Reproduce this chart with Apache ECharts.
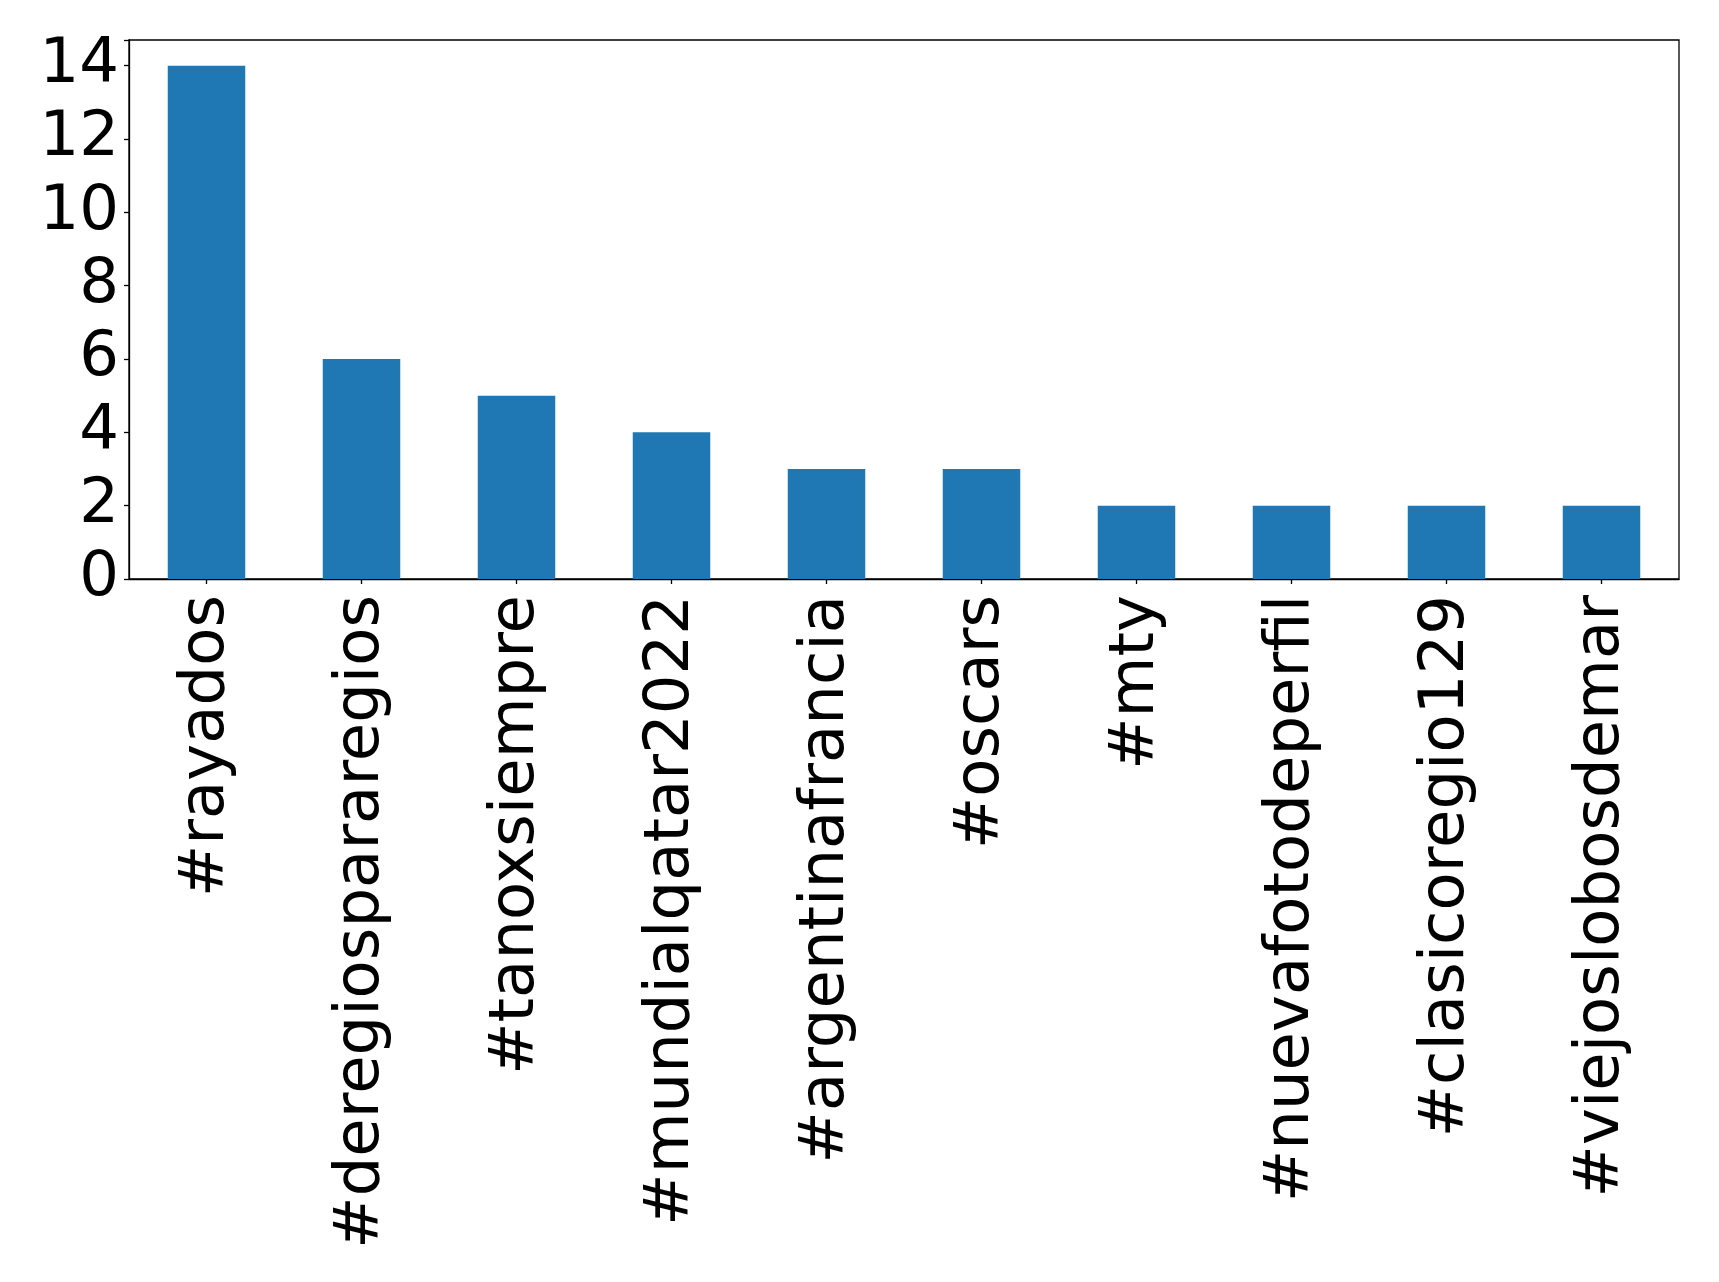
<!DOCTYPE html>
<html>
<head>
<meta charset="utf-8">
<script src="https://cdn.jsdelivr.net/npm/echarts@6/dist/echarts.min.js"></script>
<style>html,body{margin:0;padding:0;background:#fff}#c{width:1719px;height:1282px}</style>
</head>
<body>
<div id="c"></div>
<script>
const categories = ['#rayados','#deregiospararegios','#tanoxsiempre','#mundialqatar2022','#argentinafrancia','#oscars','#mty','#nuevafotodeperfil','#clasicoregio129','#viejoslobosdemar'];
const values = [14, 6, 5, 4, 3, 3, 2, 2, 2, 2];
const yTicks = [0, 2, 4, 6, 8, 10, 12, 14];

const chart = echarts.init(document.getElementById('c'), null, {renderer: 'canvas'});
const font = 'DejaVu Sans';
chart.setOption({
  animation: false,
  backgroundColor: '#ffffff',
  grid: {left: 129, top: 40, right: 40, bottom: 703, show: true, borderColor: '#000', borderWidth: 1.3, backgroundColor: 'transparent'},
  xAxis: {
    type: 'category',
    data: categories,
    boundaryGap: true,
    axisLine: {show: true, lineStyle: {color: '#000', width: 1.3}},
    axisTick: {show: true, alignWithLabel: true, length: 5, lineStyle: {color: '#000', width: 1.3}},
    axisLabel: {rotate: 90, margin: 16, fontSize: 62.5, fontFamily: font, color: '#000', interval: 0}
  },
  yAxis: {
    type: 'value',
    min: 0, max: 14.7, interval: 2,
    splitLine: {show: false},
    axisLine: {show: true, lineStyle: {color: '#000', width: 1.3}},
    axisTick: {show: true, length: 5, lineStyle: {color: '#000', width: 1.3}},
    axisLabel: {margin: 10, fontSize: 62.5, fontFamily: font, color: '#000',
      formatter: v => yTicks.includes(v) ? String(v) : ''}
  },
  series: [{
    type: 'bar',
    data: values,
    barWidth: '50%',
    itemStyle: {color: '#1f77b4'}
  }]
});
</script>
</body>
</html>
